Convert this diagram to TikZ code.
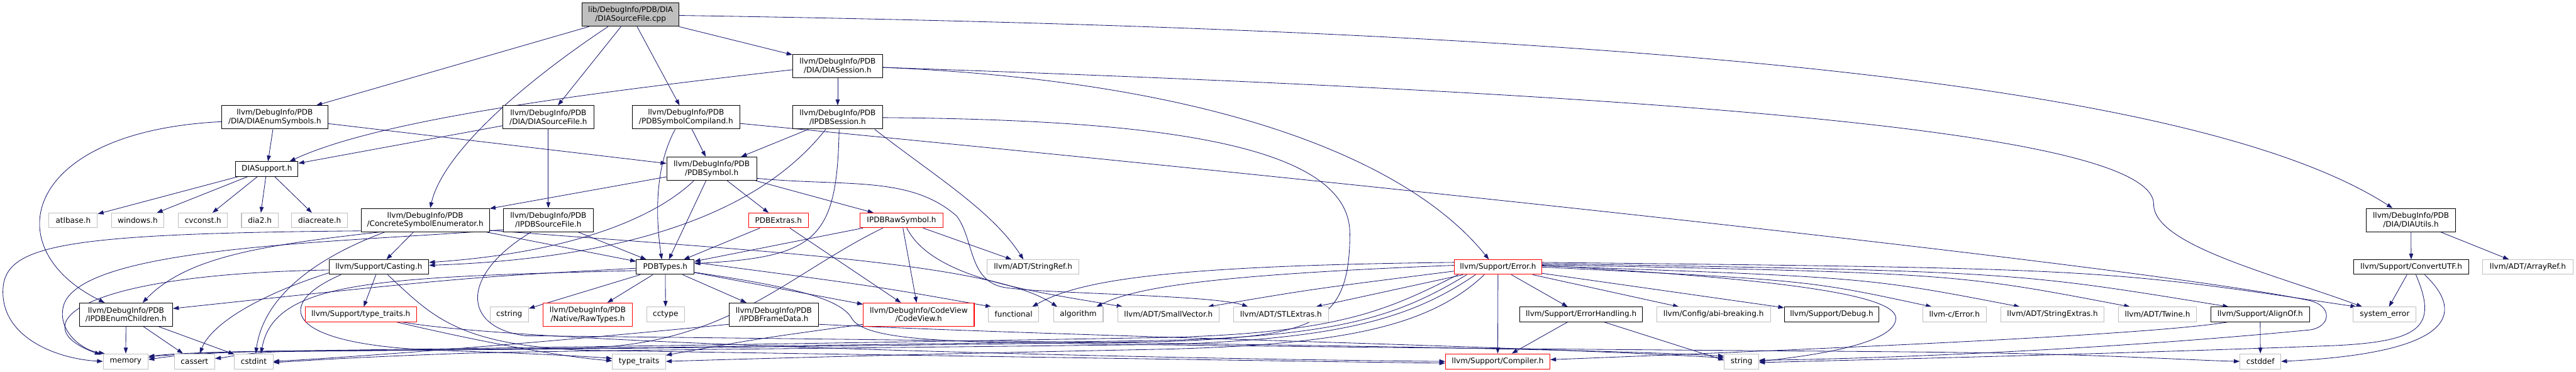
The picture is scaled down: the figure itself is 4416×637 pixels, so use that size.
\documentclass[tikz,border=0pt]{standalone}
\usepackage{fontspec}
\setmainfont{DejaVu Sans}
\usetikzlibrary{arrows.meta,calc}
\pgfdeclarelayer{background}
\pgfsetlayers{background,main}
\definecolor{edgeblue}{RGB}{25,25,112}
\definecolor{boxgray}{RGB}{191,191,191}
\newcommand\bx[7]{\node[#1,minimum width=#5pt,minimum height=#6pt] (#2) at (#3,#4) {#7};}
\begin{document}
\begin{tikzpicture}[x=1pt,y=-1pt,
  base/.style={rectangle,inner sep=0pt,align=center,font=\fontsize{13}{15}\selectfont,fill=white,line width=1.1pt},
  blk/.style={base,draw=black},
  gry/.style={base,draw=boxgray},
  rd/.style={base,draw=red},
  rootbox/.style={base,draw=black,fill=boxgray},
  dep/.style={draw=edgeblue,line width=0.9pt,-{Triangle[length=10pt,width=7pt]}}]
\useasboundingbox (0,0) rectangle (4416,637);
% nodes
\bx{rootbox}{root}{1081}{25}{166}{40}{lib/DebugInfo/PDB/DIA\\/DIASourceFile.cpp}
\bx{blk}{dEnum}{471}{201}{182}{40}{llvm/DebugInfo/PDB\\/DIA/DIAEnumSymbols.h}
\bx{blk}{dSess}{1436}{113}{154}{40}{llvm/DebugInfo/PDB\\/DIA/DIASession.h}
\bx{blk}{dSrc}{940}{201}{156}{40}{llvm/DebugInfo/PDB\\/DIA/DIASourceFile.h}
\bx{blk}{comp}{1176}{201}{184}{40}{llvm/DebugInfo/PDB\\/PDBSymbolCompiland.h}
\bx{blk}{ses}{1436}{201}{154}{40}{llvm/DebugInfo/PDB\\/IPDBSession.h}
\bx{blk}{dsup}{457.5}{289.5}{107}{25}{DIASupport.h}
\bx{blk}{sym}{1220}{289}{154}{40}{llvm/DebugInfo/PDB\\/PDBSymbol.h}
\bx{gry}{atl}{125.5}{377.5}{83}{25}{atlbase.h}
\bx{gry}{win}{236}{377.5}{90}{25}{windows.h}
\bx{gry}{cvc}{348}{377.5}{84}{25}{cvconst.h}
\bx{gry}{dia2}{445.5}{377.5}{63}{25}{dia2.h}
\bx{gry}{diac}{548}{377.5}{96}{25}{diacreate.h}
\bx{blk}{cse}{729}{377}{220}{40}{llvm/DebugInfo/PDB\\/ConcreteSymbolEnumerator.h}
\bx{blk}{isrc}{940}{377}{154}{40}{llvm/DebugInfo/PDB\\/IPDBSourceFile.h}
\bx{rd}{extras}{1334.5}{377.5}{103}{25}{PDBExtras.h}
\bx{rd}{raw}{1545.5}{377.5}{143}{25}{IPDBRawSymbol.h}
\bx{blk}{utils}{4133}{377}{154}{40}{llvm/DebugInfo/PDB\\/DIA/DIAUtils.h}
\bx{blk}{cast}{649.5}{457.5}{171}{25}{llvm/Support/Casting.h}
\bx{blk}{types}{1140.5}{457.5}{99}{25}{PDBTypes.h}
\bx{gry}{sref}{1771}{457.5}{158}{25}{llvm/ADT/StringRef.h}
\bx{rd}{err}{2568}{457.5}{150}{25}{llvm/Support/Error.h}
\bx{blk}{cutf}{4133.5}{457.5}{197}{25}{llvm/Support/ConvertUTF.h}
\bx{gry}{aref}{4333.5}{457.5}{155}{25}{llvm/ADT/ArrayRef.h}
\bx{blk}{enumc}{216}{539}{160}{40}{llvm/DebugInfo/PDB\\/IPDBEnumChildren.h}
\bx{rd}{ltt}{618.5}{538.5}{191}{25}{llvm/Support/type\_traits.h}
\bx{gry}{cstr}{873}{538.5}{66}{25}{cstring}
\bx{rd}{rawt}{1007.5}{539}{153}{40}{llvm/DebugInfo/PDB\\/Native/RawTypes.h}
\bx{gry}{cct}{1141}{538.5}{64}{25}{cctype}
\bx{blk}{frame}{1326.5}{539}{153}{40}{llvm/DebugInfo/PDB\\/IPDBFrameData.h}
\bx{rd}{cv}{1575}{539}{190}{40}{llvm/DebugInfo/CodeView\\/CodeView.h}
\bx{gry}{func}{1737.5}{538.5}{87}{25}{functional}
\bx{gry}{alg}{1848.5}{538.5}{85}{25}{algorithm}
\bx{gry}{svec}{2003}{538.5}{174}{25}{llvm/ADT/SmallVector.h}
\bx{gry}{stl}{2196}{538.5}{162}{25}{llvm/ADT/STLExtras.h}
\bx{blk}{eh}{2710.5}{538.5}{211}{25}{llvm/Support/ErrorHandling.h}
\bx{gry}{abi}{2937.5}{538.5}{195}{25}{llvm/Config/abi-breaking.h}
\bx{blk}{dbg}{3140}{538.5}{162}{25}{llvm/Support/Debug.h}
\bx{gry}{cerr}{3350.5}{538.5}{109}{25}{llvm-c/Error.h}
\bx{gry}{sext}{3518.5}{538.5}{177}{25}{llvm/ADT/StringExtras.h}
\bx{gry}{twine}{3698.5}{538.5}{133}{25}{llvm/ADT/Twine.h}
\bx{blk}{align}{3874.5}{538.5}{169}{25}{llvm/Support/AlignOf.h}
\bx{gry}{syserr}{4088}{538.5}{108}{25}{system\_error}
\bx{gry}{mem}{215.5}{619}{77}{26}{memory}
\bx{gry}{cas}{333.5}{619}{69}{26}{cassert}
\bx{gry}{cint}{435}{619}{66}{26}{cstdint}
\bx{gry}{tt}{1095.5}{619}{91}{26}{type\_traits}
\bx{rd}{comp2}{2567.5}{619}{179}{26}{llvm/Support/Compiler.h}
\bx{gry}{str}{2985.5}{619}{59}{26}{string}
\bx{gry}{cdef}{3875}{619}{70}{26}{cstddef}
\begin{pgfonlayer}{background}
% root
\draw[dep] (root) -- (dEnum);
\draw[dep] (root) -- (dSess);
\draw[dep] (root) -- (dSrc);
\draw[dep] (root) -- (comp);
\draw[dep] ($(root.south west)+(45,0)$) .. controls (900,140) and (760,260) .. ($(cse.north west)+(119,0)$);
\draw[dep] ($(root.north east)+(0,22)$) .. controls (2700,50) and (3750,130) .. ($(utils.north west)+(46,0)$);
% DIAEnumSymbols
\draw[dep] (dEnum) -- (dsup);
\draw[dep] (dEnum) -- (sym);
\draw[dep] ($(dEnum.north west)+(0,28)$) .. controls (40,225) and (-10,425) .. ($(enumc.north west)+(44,0)$);
% DIASession
\draw[dep] ($(dSess.north west)+(0,27)$) .. controls (1000,160) and (650,205) .. ($(dsup.north west)+(93,0)$);
\draw[dep] (dSess) -- (ses);
\draw[dep] ($(dSess.north east)+(0,23)$) .. controls (2100,140) and (2420,280) .. ($(err.north west)+(60,0)$);
\draw[dep] ($(dSess.north east)+(0,23)$) .. controls (2800,160) and (3692,220) .. (3692,350) .. controls (3692,420) and (3900,470) .. ($(syserr.north west)+(16,0)$);
% DIASourceFile
\draw[dep] (dSrc) -- (dsup);
\draw[dep] (dSrc) -- (isrc);
% Compiland
\draw[dep] (comp) -- (sym);
\draw[dep] ($(comp.south west)+(74,0)$) .. controls (1120,290) and (1125,380) .. ($(types.north west)+(44,0)$);
\draw[dep] ($(comp.north east)+(0,31)$) .. controls (2400,320) and (3700,460) .. (3960,515) .. controls (4000,525) and (3995,560) .. (3960,565) .. controls (3600,600) and (3200,615) .. ($(str.east)+(0,-2)$);
% DIASupport
\foreach \nn in {atl,win,cvc,dia2,diac} \draw[dep] (dsup) -- (\nn);
% IPDBSession
\draw[dep] (ses) -- (sym);
\draw[dep] ($(ses.south west)+(80,0)$) .. controls (1435,410) and (1400,440) .. ($(types.north east)+(0,7)$);
\draw[dep] ($(ses.south west)+(57,0)$) .. controls (1330,330) and (1150,440) .. ($(cast.north east)+(0,10)$);
\draw[dep] ($(ses.south west)+(141,0)$) .. controls (1600,300) and (1700,360) .. ($(sref.north west)+(63,0)$);
\draw[dep] ($(ses.north east)+(0,21)$) .. controls (2000,205) and (2314,250) .. (2314,400) .. controls (2314,560) and (2250,575) .. (2000,585) .. controls (1200,597) and (700,600) .. (500,601) .. controls (350,602) and (290,609) .. ($(mem.east)+(0,-9)$);
% PDBSymbol
\draw[dep] (sym) -- (cse);
\draw[dep] (sym) -- (types);
\draw[dep] (sym) -- (extras);
\draw[dep] (sym) -- (raw);
\draw[dep] ($(sym.south west)+(47,0)$) .. controls (1110,385) and (950,435) .. ($(cast.north east)+(0,5)$);
\draw[dep] ($(sym.north east)+(0,37)$) .. controls (1450,320) and (1560,300) .. (1640,370) .. controls (1670,410) and (1660,480) .. (1720,492) .. controls (1780,503) and (2080,505) .. ($(stl.north west)+(25,0)$);
% ConcreteSymbolEnumerator
\draw[dep] ($(cse.south west)+(32,0)$) .. controls (450,420) and (320,440) .. ($(enumc.north west)+(109,0)$);
\draw[dep] ($(cse.south west)+(41,0)$) .. controls (520,450) and (450,520) .. ($(cint.north west)+(37,0)$);
\draw[dep] ($(cse.north west)+(0,39)$) .. controls (100,400) and (5,420) .. (5,500) .. controls (5,580) and (100,615) .. (mem.west);
\draw[dep] (cse) -- (cast);
\draw[dep] (cse) -- (types);
\draw[dep] ($(cse.north east)+(0,38)$) .. controls (1300,430) and (1700,450) .. ($(alg.north west)+(7,0)$);
% IPDBSourceFile
\draw[dep] (isrc) -- (types);
\draw[dep] ($(isrc.north west)+(0,37)$) .. controls (600,415) and (150,420) .. (110,520) .. controls (95,565) and (140,600) .. ($(mem.north west)+(3,0)$);
\draw[dep] ($(isrc.south west)+(48,0)$) .. controls (790,470) and (790,560) .. (900,575) .. controls (1800,585) and (2700,595) .. ($(str.west)+(0,-9)$);
% PDBExtras
\draw[dep] (extras) -- (types);
\draw[dep] (extras) -- (cv);
% IPDBRawSymbol
\draw[dep] (raw) -- (types);
\draw[dep] (raw) -- (cv);
\draw[dep] (raw) -- (sref);
\draw[dep] ($(raw.south west)+(40,0)$) .. controls (1350,470) and (1250,590) .. (1000,596) .. controls (700,600) and (450,601) .. (350,604) .. controls (300,606) and (270,608) .. ($(mem.east)+(0,-6)$);
\draw[dep] ($(raw.south west)+(81,0)$) .. controls (1600,480) and (1780,500) .. ($(svec.north west)+(9,0)$);
% PDBTypes
\foreach \nn in {cstr,rawt,cct,frame,cv} \draw[dep] (types) -- (\nn);
\draw[dep] ($(types.north east)+(0,5)$) .. controls (1500,490) .. ($(func.north west)+(6,0)$);
\draw[dep] ($(types.north west)+(0,15)$) .. controls (800,475) .. ($(enumc.north east)+(0,10)$);
\draw[dep] ($(types.north west)+(0,19)$) .. controls (650,475) and (470,480) .. ($(cint.north west)+(46,0)$);
\draw[dep] ($(types.north east)+(0,22)$) .. controls (1350,490) and (1440,510) .. (1460,545) .. controls (1480,580) and (1600,585) .. (1800,588) .. controls (2500,598) and (3000,600) .. (3300,603) .. controls (3600,606) and (3750,617) .. (cdef.west);
% Casting
\draw[dep] (cast) -- (ltt);
\draw[dep] ($(cast.north west)+(0,18)$) .. controls (120,470) and (40,560) .. ($(mem.north west)+(-4,2)$);
\draw[dep] ($(cast.north west)+(0,23)$) .. controls (430,510) and (360,560) .. ($(cas.north west)+(44,0)$);
\draw[dep] ($(cast.south west)+(21,0)$) .. controls (470,520) and (480,590) .. (750,600) .. controls (900,605) and (1000,610) .. ($(tt.west)+(0,-5)$);
\draw[dep] ($(cast.south west)+(101,0)$) .. controls (740,540) and (780,590) .. (1000,600) .. controls (1800,612) and (2300,620) .. ($(comp2.west)+(0,3)$);
% llvm type_traits
\draw[dep] ($(ltt.south west)+(157,0)$) .. controls (800,580) and (950,610) .. ($(tt.west)+(0,-1)$);
\draw[dep] ($(ltt.south west)+(167,0)$) .. controls (900,590) and (2000,615) .. (comp2.west);
% IPDBEnumChildren
\draw[dep] (enumc) -- (mem);
\draw[dep] (enumc) -- (cas);
\draw[dep] (enumc) -- (cint);
% IPDBFrameData
\draw[dep] ($(frame.north west)+(0,37)$) .. controls (900,590) and (600,612) .. (cint.east);
\draw[dep] ($(frame.north east)+(0,37)$) .. controls (1800,575) and (2600,592) .. ($(str.west)+(0,-6)$);
% CodeView
\draw[dep] ($(cv.north west)+(0,37)$) .. controls (1300,580) .. ($(tt.north east)+(0,3)$);
% Error
\draw[dep] (err) -- (comp2);
\draw[dep] (err) -- (stl);
\draw[dep] (err) -- (eh);
\draw[dep] (err) -- (abi);
\draw[dep] (err) -- (dbg);
\draw[dep] ($(err.north west)+(0,20)$) .. controls (2250,495) .. ($(svec.north west)+(155,0)$);
\draw[dep] ($(err.north west)+(0,10)$) .. controls (2100,470) and (1950,490) .. ($(alg.north west)+(74,0)$);
\draw[dep] ($(err.north west)+(0,5)$) .. controls (2000,455) and (1850,480) .. ($(func.north west)+(76,0)$);
\draw[dep] ($(err.south west)+(52,0)$) .. controls (2450,560) and (2300,590) .. (2000,598) .. controls (1600,606) and (1300,614) .. (tt.east);
\draw[dep] ($(err.south west)+(37,0)$) .. controls (2420,545) and (2300,580) .. (2000,590) .. controls (1300,598) and (1000,600) .. (800,605) .. controls (600,612) and (520,618) .. ($(cint.east)+(0,2)$);
\draw[dep] ($(err.south west)+(22,0)$) .. controls (2400,540) and (2300,575) .. (2000,583) .. controls (1200,595) and (700,600) .. (500,602) .. controls (420,603) and (390,612) .. ($(cas.east)+(0,-5)$);
\draw[dep] ($(err.south west)+(7,0)$) .. controls (2380,530) and (2300,570) .. (2000,578) .. controls (1200,592) and (700,598) .. (500,601) .. controls (350,603) and (290,610) .. ($(mem.east)+(0,-3)$);
\draw[dep] ($(err.north east)+(0,10)$) .. controls (3000,475) and (3250,500) .. (3250,545) .. controls (3250,590) and (3100,610) .. (str.east);
\draw[dep] ($(err.north east)+(0,13)$) .. controls (3100,480) .. ($(cerr.north west)+(16,0)$);
\draw[dep] ($(err.north east)+(0,11)$) .. controls (3200,475) .. ($(sext.north west)+(33,0)$);
\draw[dep] ($(err.north east)+(0,9)$) .. controls (3350,468) .. ($(twine.north west)+(20,0)$);
\draw[dep] ($(err.north east)+(0,7)$) .. controls (3450,465) .. ($(align.north west)+(31,0)$);
\draw[dep] ($(err.north east)+(0,5)$) .. controls (3600,460) .. ($(syserr.north west)+(6,0)$);
% ErrorHandling
\draw[dep] (eh) -- (comp2);
\draw[dep] ($(eh.south west)+(145,0)$) -- ($(str.west)+(0,-2)$);
% AlignOf
\draw[dep] ($(align.south west)+(30,0)$) .. controls (3700,572) and (3200,595) .. ($(comp2.east)+(0,-3)$);
\draw[dep] (align) -- (cdef);
% ConvertUTF
\draw[dep] (cutf) -- (syserr);
\draw[dep] ($(cutf.south west)+(107,0)$) .. controls (4180,560) and (4150,585) .. (4000,592) .. controls (3600,607) and (3200,616) .. ($(str.east)+(0,2)$);
\draw[dep] ($(cutf.south west)+(122,0)$) .. controls (4230,540) and (4200,605) .. (cdef.east);
% DIAUtils
\draw[dep] (utils) -- (cutf);
\draw[dep] (utils) -- (aref);
\end{pgfonlayer}
\end{tikzpicture}
\end{document}
